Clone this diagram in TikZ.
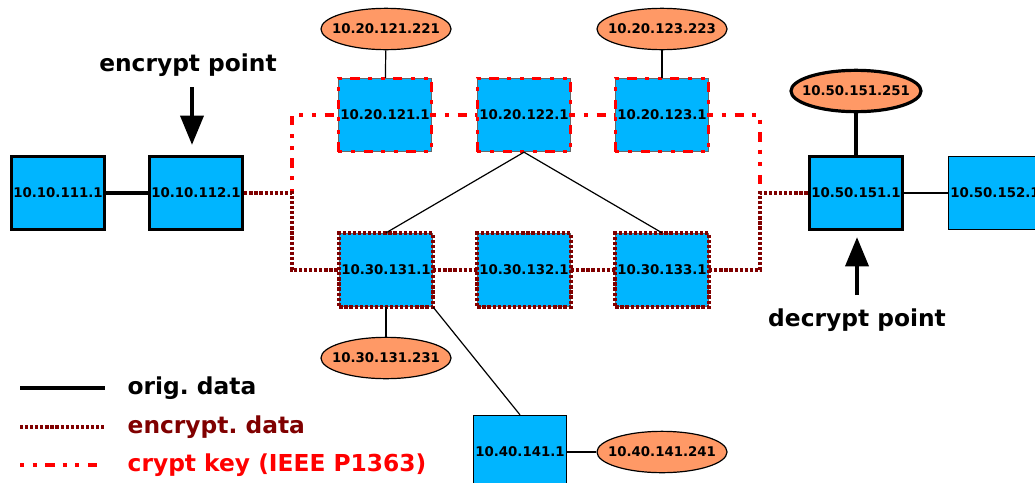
\documentclass[tikz,border=0pt]{standalone}
\usepackage{fontspec}
\setmainfont{DejaVu Sans}
\usetikzlibrary{arrows.meta,shapes.geometric}

\definecolor{hostblue}{RGB}{0,181,255}
\definecolor{keyorange}{RGB}{255,153,102}
\definecolor{encred}{RGB}{128,0,0}

\tikzset{
  host/.style={draw, fill=hostblue, minimum width=70pt, minimum height=55pt,
    inner sep=0pt, line width=0.75pt, font=\fontsize{10}{12}\selectfont\bfseries},
  gateway/.style={host, line width=2.4pt},
  keyhost/.style={host, draw=black!60, postaction={draw=red, line width=2.6pt,
    dash pattern=on 3pt off 6.5pt on 3pt off 6.5pt on 7pt off 6pt}},
  enchost/.style={host, draw=black!60, postaction={draw=encred, line width=2.8pt,
    dash pattern=on 2.4pt off 1.4pt}},
  keysrv/.style={ellipse, draw, fill=keyorange, minimum width=97.5pt, minimum height=31pt,
    inner xsep=-6pt, inner ysep=0pt, line width=0.9pt, font=\fontsize{10}{12}\selectfont\bfseries},
  orig/.style={black, line width=0.9pt},
  origthick/.style={black, line width=2.4pt},
  encdata/.style={encred, line width=3pt, dash pattern=on 2.4pt off 1.4pt},
  cryptkey/.style={red, line width=3pt, dash pattern=on 3pt off 6.5pt on 3pt off 6.5pt on 7pt off 6pt},
  pointer/.style={line width=3.5pt, -{Triangle[length=22pt, width=17pt]}},
  caption/.style={font=\fontsize{17.5}{20}\selectfont\bfseries}
}

\begin{document}
\begin{tikzpicture}[x=0.75pt, y=-0.75pt]
\useasboundingbox (0,0) rectangle (1035,482);

% hosts
\node[gateway] (h1) at (58,193)  {10.10.111.1};
\node[gateway] (g1) at (196,193) {10.10.112.1};
\node[keyhost] (a1) at (385,115) {10.20.121.1};
\node[keyhost] (a2) at (524,115) {10.20.122.1};
\node[keyhost] (a3) at (662,115) {10.20.123.1};
\node[enchost] (b1) at (386,270) {10.30.131.1};
\node[enchost] (b2) at (524,270) {10.30.132.1};
\node[enchost] (b3) at (662,270) {10.30.133.1};
\node[host]    (c1) at (520,452) {10.40.141.1};
\node[gateway] (g2) at (856,193) {10.50.151.1};
\node[host]    (h2) at (995,193) {10.50.152.1};

% key servers
\node[keysrv] (s1) at (386,29)  {10.20.121.221};
\node[keysrv] (s3) at (662,29)  {10.20.123.223};
\node[keysrv] (s4) at (386,358) {10.30.131.231};
\node[keysrv] (s5) at (662,452) {10.40.141.241};
\node[keysrv, line width=2.4pt] (s6) at (856,91) {10.50.151.251};

\coordinate (j1) at (292,193);
\coordinate (j2) at (760,193);

% plain links
\draw[origthick] (h1) -- (g1);
\draw[orig] (s1) -- (a1);
\draw[orig] (s3) -- (a3);
\draw[orig] (s4) -- (b1);
\draw[orig] (a2.south) -- (b1.north);
\draw[orig] (a2.south) -- (b3.north);
\draw[orig] (b1.south east) -- (c1.north);
\draw[orig] (c1) -- (s5);
\draw[orig] (g2) -- (h2);
\draw[origthick] (s6) -- (g2);

% crypt key path
\draw[cryptkey] (j1) |- (a1.west);
\draw[cryptkey] (a1.east) -- (a2.west);
\draw[cryptkey] (a2.east) -- (a3.west);
\draw[cryptkey] (a3.east) -| (j2);

% encrypted path
\draw[encdata] (g1.east) -- (j1) |- (b1.west);
\draw[encdata] (b1.east) -- (b2.west);
\draw[encdata] (b2.east) -- (b3.west);
\draw[encdata] (b3.east) -| (j2) -- (g2.west);

% crypt points
\node[caption] (ep) at (188,65) {encrypt point};
\draw[pointer] (192,87) -- (192,145);
\node[caption] (dp) at (857,320) {decrypt point};
\draw[pointer] (857,295) -- (857,237);

% legend
\draw[origthick] (20,388) -- (105,388);
\node[caption, anchor=west] (l1) at (123,388) {orig.\ data};
\draw[encdata] (20,427) -- (105,427);
\node[caption, anchor=west, text=encred] (l2) at (123,427) {encrypt.\ data};
\draw[cryptkey] (20,465) -- (105,465);
\node[caption, anchor=west, text=red] (l3) at (123,465) {crypt key (IEEE P1363)};
\end{tikzpicture}
\end{document}
